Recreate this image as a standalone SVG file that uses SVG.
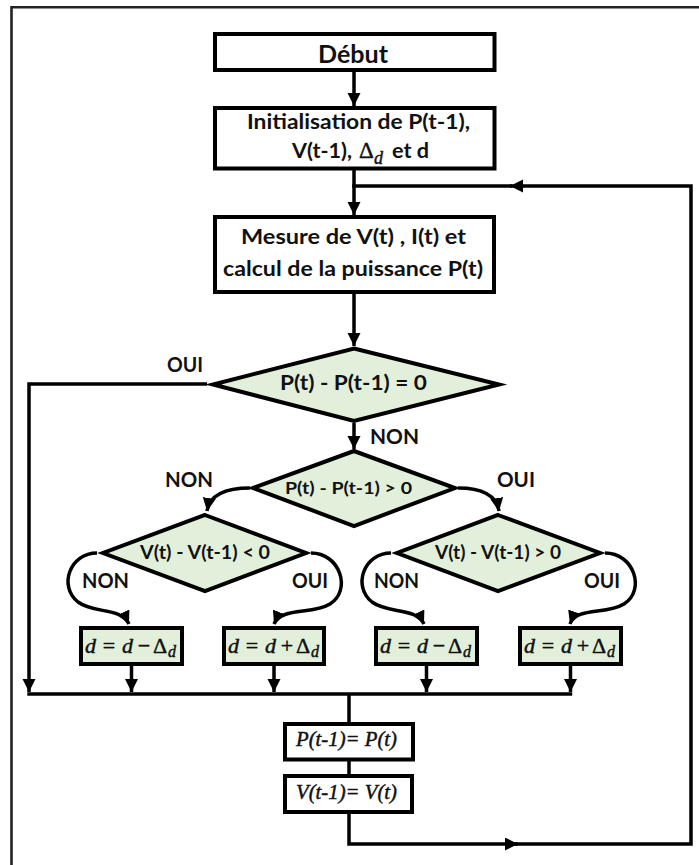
<svg xmlns="http://www.w3.org/2000/svg" width="699" height="865" viewBox="0 0 699 865">
  <defs>
    <marker id="arrow" markerUnits="userSpaceOnUse" markerWidth="14" markerHeight="14" refX="13" refY="6.5" orient="auto">
      <path d="M0,0 L13,6.5 L0,13 z" fill="#000"/>
    </marker>
    <style>
      .box { fill: #fff; stroke: #000; stroke-width: 4; }
      .gbox { fill: #e2efda; stroke: #000; stroke-width: 4; }
      .dia { fill: #e2efda; stroke: #000; stroke-width: 4; stroke-linejoin: miter; stroke-miterlimit: 20; }
      .ln { fill: none; stroke: #000; stroke-width: 3.5; stroke-linejoin: miter; }
      .arr { marker-end: url(#arrow); }
      .t { font-family: "Lato", "Open Sans", "DejaVu Sans", sans-serif; font-weight: 700; fill: #111; }
      .c { text-anchor: middle; }
      .m { font-family: "Liberation Serif", "DejaVu Serif", serif; fill: #111; stroke: #111; stroke-width: 0.45; }
      .mi { font-family: "Liberation Serif", "DejaVu Serif", serif; font-style: italic; fill: #111; stroke: #111; stroke-width: 0.45; }
      .lbl { font-size: 20px; }
    </style>
  </defs>

  <rect width="699" height="865" fill="#fff"/>

  <!-- outer frame (top and left edges) -->
  <path d="M11.5,865 V7.3 H699" fill="none" stroke="#222" stroke-width="2.6"/>

  <g id="connectors">
    <path class="ln arr" d="M354,72 V106"/>
    <path class="ln arr" d="M354,170 V215"/>
    <path class="ln arr" d="M354,294 V346"/>
    <path class="ln arr" d="M354,423 V449"/>
    <!-- OUI branch of the first test, straight to the bus -->
    <path class="ln arr" d="M207,384 H29 V692"/>
    <!-- second test to the two voltage tests -->
    <path class="ln arr" d="M250,488 C228,488 210,494 207,511"/>
    <path class="ln arr" d="M458,488 C480,488 496,494 499,511"/>
    <!-- voltage tests to the duty-cycle updates -->
    <path class="ln arr" d="M97,553 C70,553 58,586 78,602 C94,614 121,607 129,624"/>
    <path class="ln arr" d="M311,553 C340,553 352,590 330,604 C312,615 281,607 274,624"/>
    <path class="ln arr" d="M391,553 C364,553 352,586 372,602 C388,614 416,607 424,624"/>
    <path class="ln arr" d="M605,553 C634,553 646,590 624,604 C606,615 576,607 570,624"/>
    <!-- updates down to the bus -->
    <path class="ln arr" d="M131.5,666 V692"/>
    <path class="ln arr" d="M274,666 V692"/>
    <path class="ln arr" d="M426.5,666 V692"/>
    <path class="ln arr" d="M570.5,666 V692"/>
    <path class="ln" d="M27.3,694 H572.2"/>
    <path class="ln" d="M349,694 V722"/>
    <path class="ln" d="M349,761 V774"/>
    <!-- return loop -->
    <path class="ln arr" d="M349,813 V844 H518"/>
    <path class="ln arr" d="M514,844 H691 V186 H510"/>
    <path class="ln" d="M512,186 H352.3"/>
  </g>

  <g id="debut">
    <rect class="box" x="215" y="34" width="279.5" height="36"/>
    <text class="t c" x="353" y="63" font-size="25" textLength="70" lengthAdjust="spacingAndGlyphs">Début</text>
  </g>

  <g id="init">
    <rect class="box" x="215" y="108" width="279.5" height="60.5"/>
    <text class="t c" x="358.5" y="129" font-size="21" textLength="223" lengthAdjust="spacingAndGlyphs">Initialisation de P(t-1),</text>
    <text class="t" x="292" y="158" font-size="21" textLength="60" lengthAdjust="spacingAndGlyphs">V(t-1),</text>
    <text class="m" x="359" y="158" font-size="23" stroke-width="0">Δ</text>
    <text class="mi" x="374" y="164" font-size="18" stroke-width="0.2">d</text>
    <text class="t" x="392" y="158" font-size="21" textLength="37" lengthAdjust="spacingAndGlyphs">et d</text>
  </g>

  <g id="mesure">
    <rect class="box" x="215" y="217" width="279" height="75"/>
    <text class="t c" x="353.5" y="244" font-size="21" textLength="225" lengthAdjust="spacingAndGlyphs">Mesure de V(t) , I(t) et</text>
    <text class="t c" x="353" y="276" font-size="21" textLength="260" lengthAdjust="spacingAndGlyphs">calcul de la puissance P(t)</text>
  </g>

  <g id="test-dp-zero">
    <polygon class="dia" points="354,348.5 499,384.5 354,421 213,384.5"/>
    <text class="t c" x="353.5" y="390" font-size="20" textLength="147" lengthAdjust="spacingAndGlyphs">P(t) - P(t-1) = 0</text>
    <text class="t c lbl" x="185" y="372" textLength="36" lengthAdjust="spacingAndGlyphs">OUI</text>
    <text class="t c lbl" x="394.5" y="444" textLength="49" lengthAdjust="spacingAndGlyphs">NON</text>
  </g>

  <g id="test-dp-pos">
    <polygon class="dia" points="354,451 455,488 354,526 253,488"/>
    <text class="t c" x="348.5" y="494" font-size="17.5" textLength="127" lengthAdjust="spacingAndGlyphs">P(t) - P(t-1) &gt; 0</text>
    <text class="t c lbl" x="189" y="487" textLength="48" lengthAdjust="spacingAndGlyphs">NON</text>
    <text class="t c lbl" x="516" y="487" textLength="38" lengthAdjust="spacingAndGlyphs">OUI</text>
  </g>

  <g id="test-dv-neg">
    <polygon class="dia" points="205,515 306,553 205,591 103,553"/>
    <text class="t c" x="205" y="559" font-size="18" textLength="130" lengthAdjust="spacingAndGlyphs">V(t) - V(t-1) &lt; 0</text>
    <text class="t c lbl" x="105.5" y="588" textLength="47" lengthAdjust="spacingAndGlyphs">NON</text>
    <text class="t c lbl" x="310" y="588" textLength="36" lengthAdjust="spacingAndGlyphs">OUI</text>
  </g>

  <g id="test-dv-pos">
    <polygon class="dia" points="498,515 600,553 498,591 397,553"/>
    <text class="t c" x="498" y="559" font-size="18" textLength="126" lengthAdjust="spacingAndGlyphs">V(t) - V(t-1) &gt; 0</text>
    <text class="t c lbl" x="396.5" y="588" textLength="45" lengthAdjust="spacingAndGlyphs">NON</text>
    <text class="t c lbl" x="602" y="588" textLength="36" lengthAdjust="spacingAndGlyphs">OUI</text>
  </g>

  <g id="dec-1" transform="translate(81,0)">
    <rect class="gbox" x="0" y="628" width="101" height="36"/>
    <text class="mi" x="4" y="653" font-size="22">d</text>
    <text class="m" x="28" y="653" font-size="22" text-anchor="middle">=</text>
    <text class="mi" x="41" y="653" font-size="22">d</text>
    <text class="m" x="63" y="653" font-size="22" text-anchor="middle">−</text>
    <text class="m" x="72" y="653" font-size="22">Δ</text>
    <text class="mi" x="87" y="657" font-size="16">d</text>
  </g>

  <g id="inc-1" transform="translate(224,0)">
    <rect class="gbox" x="0" y="628" width="100" height="36"/>
    <text class="mi" x="4" y="653" font-size="22">d</text>
    <text class="m" x="28" y="653" font-size="22" text-anchor="middle">=</text>
    <text class="mi" x="41" y="653" font-size="22">d</text>
    <text class="m" x="63" y="653" font-size="22" text-anchor="middle">+</text>
    <text class="m" x="72" y="653" font-size="22">Δ</text>
    <text class="mi" x="87" y="657" font-size="16">d</text>
  </g>

  <g id="dec-2" transform="translate(376,0)">
    <rect class="gbox" x="0" y="628" width="101" height="36"/>
    <text class="mi" x="4" y="653" font-size="22">d</text>
    <text class="m" x="28" y="653" font-size="22" text-anchor="middle">=</text>
    <text class="mi" x="41" y="653" font-size="22">d</text>
    <text class="m" x="63" y="653" font-size="22" text-anchor="middle">−</text>
    <text class="m" x="72" y="653" font-size="22">Δ</text>
    <text class="mi" x="87" y="657" font-size="16">d</text>
  </g>

  <g id="inc-2" transform="translate(520,0)">
    <rect class="gbox" x="0" y="628" width="101" height="36"/>
    <text class="mi" x="4" y="653" font-size="22">d</text>
    <text class="m" x="28" y="653" font-size="22" text-anchor="middle">=</text>
    <text class="mi" x="41" y="653" font-size="22">d</text>
    <text class="m" x="63" y="653" font-size="22" text-anchor="middle">+</text>
    <text class="m" x="72" y="653" font-size="22">Δ</text>
    <text class="mi" x="87" y="657" font-size="16">d</text>
  </g>

  <g id="store-p">
    <rect class="box" x="285" y="724" width="128" height="35.5"/>
    <text class="mi" x="296" y="746" font-size="20" textLength="101" lengthAdjust="spacingAndGlyphs">P(t-1)= P(t)</text>
  </g>

  <g id="store-v">
    <rect class="box" x="285" y="776" width="127" height="36"/>
    <text class="mi" x="296" y="799" font-size="20" textLength="101" lengthAdjust="spacingAndGlyphs">V(t-1)= V(t)</text>
  </g>
</svg>
